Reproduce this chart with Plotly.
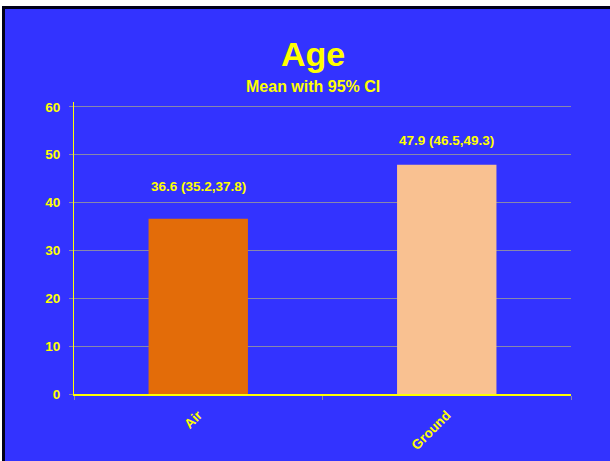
import plotly.graph_objects as go

categories = ["Air", "Ground"]
means = [36.6, 47.9]
ci_low = [35.2, 46.5]
ci_high = [37.8, 49.3]
bar_colors = ["#E36C09", "#F9C191"]
y_ticks = [0, 10, 20, 30, 40, 50, 60]
y_max = 61

W, H = 610, 461
ML, MR, MT, MB = 74, 39, 102, 67
PW, PH = W - ML - MR, H - MT - MB

def px_x(p):
    return (p - ML) / PW

def px_y(p):
    return (H - MB - p) / PH

YELLOW = "#FFFF00"
BLUE = "#3333FF"
GRID = "#8888AA"
FONT = "Arial, Liberation Sans, sans-serif"

fig = go.Figure()
fig.add_trace(go.Bar(
    x=categories, y=means,
    marker=dict(color=bar_colors, line=dict(width=0)),
    width=0.4, hoverinfo="skip",
))

label_shift = [32, 24]
for c, m, lo, hi, s in zip(categories, means, ci_low, ci_high, label_shift):
    fig.add_annotation(
        x=c, y=m, xref="x", yref="y",
        text=f"<b>{m:.1f} ({lo:.1f},{hi:.1f})</b>",
        showarrow=False, yanchor="middle", xanchor="center", yshift=s,
        font=dict(family=FONT, size=13.5, color=YELLOW),
    )

fig.add_annotation(
    x=px_x(313), y=px_y(54), xref="paper", yref="paper",
    text="<b>Age</b>", showarrow=False, xanchor="center", yanchor="middle",
    font=dict(family=FONT, size=34, color=YELLOW),
)
fig.add_annotation(
    x=px_x(313), y=px_y(87), xref="paper", yref="paper",
    text="<b>Mean with 95% CI</b>", showarrow=False, xanchor="center", yanchor="middle",
    font=dict(family=FONT, size=16, color=YELLOW),
)

fig.add_shape(
    type="rect", xref="paper", yref="paper",
    x0=px_x(3.5), x1=px_x(W + 50), y0=px_y(H + 50), y1=px_y(7.5),
    line=dict(color="#000018", width=3), fillcolor=BLUE, layer="below",
)

fig.update_layout(
    width=W, height=H,
    margin=dict(l=ML, r=MR, t=MT, b=MB, pad=0, autoexpand=False),
    paper_bgcolor="white", plot_bgcolor=BLUE,
    showlegend=False,
    bargap=0.6,
    font=dict(family=FONT, color=YELLOW),
)
fig.update_xaxes(
    automargin=False,
    showline=True, linecolor=YELLOW, linewidth=2,
    showgrid=False, tickson="boundaries", ticks="outside", ticklen=4,
    tickcolor=GRID, tickwidth=1, tickangle=-45,
    tickfont=dict(family=FONT, size=13.5, color=YELLOW, weight="bold"),
    ticklabelstandoff=6,
)
fig.update_yaxes(
    automargin=False,
    range=[0, y_max], tickvals=y_ticks, showline=True, linecolor=YELLOW, linewidth=1,
    showgrid=True, gridcolor=GRID, gridwidth=1, zeroline=False,
    ticks="outside", ticklen=4, tickcolor=GRID, tickwidth=1,
    tickfont=dict(family=FONT, size=13.5, color=YELLOW, weight="bold"),
    ticklabelstandoff=6,
)

fig.write_html("out.html")
